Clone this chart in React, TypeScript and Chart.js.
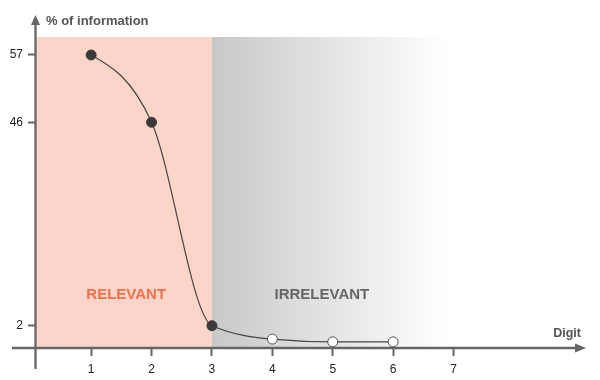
import { useEffect, useRef } from "react";
import { Chart, registerables, LinearScale } from "chart.js";

Chart.register(...registerables);

// ---- data ----
const digits = [1, 2, 3, 4, 5, 6];
const infoPercent = [57, 46, 2, 0.8, 0.55, 0.55];
const relevantCount = 3;
const xTickValues = [1, 2, 3, 4, 5, 6, 7];
const yTickValues = [2, 46, 57];
const yAxisTitle = "% of information";
const xAxisTitle = "Digit";
const relevantLabel = "RELEVANT";
const irrelevantLabel = "IRRELEVANT";
// schematic (non-proportional) y axis calibration: value -> axis height share
const yCalibValues = [0, 2, 46, 57, 60];
const yCalibHeights = [0, 22.3, 225.7, 293, 311];

function warp(v: number): number {
  const a = yCalibValues, b = yCalibHeights;
  for (let i = 1; i < a.length; i++) {
    if (v <= a[i] || i === a.length - 1) {
      const t = (v - a[i - 1]) / (a[i] - a[i - 1]);
      return b[i - 1] + t * (b[i] - b[i - 1]);
    }
  }
  return v;
}
function unwarp(h: number): number {
  const a = yCalibValues, b = yCalibHeights;
  for (let i = 1; i < b.length; i++) {
    if (h <= b[i] || i === b.length - 1) {
      const t = (h - b[i - 1]) / (b[i] - b[i - 1]);
      return a[i - 1] + t * (a[i] - a[i - 1]);
    }
  }
  return h;
}

class WarpScale extends LinearScale {
  getPixelForValue(value: any) {
    if (value === null || value === undefined) return NaN;
    return super.getPixelForValue(warp(value));
  }
  getValueForPixel(pixel: number) {
    return unwarp(super.getValueForPixel(pixel) as number);
  }
}
(WarpScale as any).id = "warp";
(WarpScale as any).defaults = (LinearScale as any).defaults;
Chart.register(WarpScale as any);

const FONT = '"Liberation Sans", Arial, Helvetica, sans-serif';
const AXIS = "#666666";

function sign(v: number) {
  return v < 0 ? -1 : 1;
}

// monotone-X (Steffen) control points, applied to the library's point elements
function applyMonotoneX(line: any) {
  const pts = line.points || [];
  const n = pts.length;
  if (n < 2) return;
  const t: number[] = new Array(n).fill(0);
  for (let i = 1; i < n - 1; i++) {
    const h0 = pts[i].x - pts[i - 1].x;
    const h1 = pts[i + 1].x - pts[i].x;
    const s0 = (pts[i].y - pts[i - 1].y) / h0;
    const s1 = (pts[i + 1].y - pts[i].y) / h1;
    const p = (s0 * h1 + s1 * h0) / (h0 + h1);
    t[i] = (sign(s0) + sign(s1)) * Math.min(Math.abs(s0), Math.abs(s1), 0.5 * Math.abs(p)) || 0;
  }
  if (n > 2) {
    const h = pts[1].x - pts[0].x;
    t[0] = (3 * (pts[1].y - pts[0].y) / h - t[1]) / 2;
    const h2 = pts[n - 1].x - pts[n - 2].x;
    t[n - 1] = (3 * (pts[n - 1].y - pts[n - 2].y) / h2 - t[n - 2]) / 2;
  } else {
    t[0] = t[1] = (pts[1].y - pts[0].y) / (pts[1].x - pts[0].x);
  }
  for (let i = 0; i < n; i++) {
    const pt = pts[i];
    const dPrev = i > 0 ? (pt.x - pts[i - 1].x) / 3 : 0;
    const dNext = i < n - 1 ? (pts[i + 1].x - pt.x) / 3 : 0;
    pt.cp1x = pt.x - dPrev;
    pt.cp1y = pt.y - dPrev * t[i];
    pt.cp2x = pt.x + dNext;
    pt.cp2y = pt.y + dNext * t[i];
  }
  line._pointsUpdated = true;
  line._path = undefined;
}

const backgroundPlugin = {
  id: "regions",
  beforeDatasetsDraw(chart: any) {
    const { ctx, chartArea, scales } = chart;
    const meta = chart.getDatasetMeta(0);
    if (meta && meta.dataset) applyMonotoneX(meta.dataset);

    const x = scales.x;
    const x3 = x.getPixelForValue(3);
    const xFade = x.getPixelForValue(6.9);
    ctx.save();
    ctx.fillStyle = "#FBD5C9";
    ctx.fillRect(chartArea.left, chartArea.top, x3 - chartArea.left, chartArea.bottom - chartArea.top);
    const g = ctx.createLinearGradient(x3, 0, xFade, 0);
    g.addColorStop(0, "#C8C8C8");
    g.addColorStop(1, "#FFFFFF");
    ctx.fillStyle = g;
    ctx.fillRect(x3, chartArea.top, xFade - x3, chartArea.bottom - chartArea.top);

    ctx.font = `bold 15px ${FONT}`;
    ctx.textAlign = "center";
    ctx.textBaseline = "alphabetic";
    ctx.fillStyle = "#F2704A";
    ctx.fillText(relevantLabel, x.getPixelForValue(1.58), 299);
    ctx.fillStyle = "#666666";
    ctx.fillText(irrelevantLabel, x.getPixelForValue(4.82), 299);
    ctx.restore();
  },
  afterDraw(chart: any) {
    const { ctx, chartArea, scales } = chart;
    const y0 = scales.y.getPixelForValue(0);
    const xL = chartArea.left + 0.5;
    ctx.save();
    ctx.strokeStyle = AXIS;
    ctx.fillStyle = AXIS;
    ctx.lineWidth = 2.3;
    // x axis
    ctx.beginPath();
    ctx.moveTo(12, y0);
    ctx.lineTo(577, y0);
    ctx.stroke();
    ctx.beginPath();
    ctx.moveTo(575, y0 - 4.5);
    ctx.lineTo(586, y0);
    ctx.lineTo(575, y0 + 4.5);
    ctx.closePath();
    ctx.fill();
    // y axis
    ctx.beginPath();
    ctx.moveTo(xL, 369);
    ctx.lineTo(xL, 24);
    ctx.stroke();
    ctx.beginPath();
    ctx.moveTo(xL - 4.5, 25);
    ctx.lineTo(xL, 15);
    ctx.lineTo(xL + 4.5, 25);
    ctx.closePath();
    ctx.fill();

    ctx.fillStyle = "#555555";
    ctx.font = `bold 13px ${FONT}`;
    ctx.textAlign = "left";
    ctx.textBaseline = "alphabetic";
    ctx.fillText(yAxisTitle, 46, 25);
    ctx.font = `bold 12.5px ${FONT}`;
    ctx.textAlign = "right";
    ctx.fillText(xAxisTitle, 581, 337);
    ctx.restore();
  },
};

export default function App() {
  const ref = useRef<HTMLCanvasElement>(null);
  useEffect(() => {
    if (!ref.current) return;
    const pts = digits.map((d, i) => ({ x: d, y: infoPercent[i] }));
    const chart = new Chart(ref.current, {
      type: "line",
      data: {
        datasets: [
          {
            data: pts,
            borderColor: "#444444",
            borderWidth: 1.2,
            cubicInterpolationMode: "monotone",
            fill: false,
            pointRadius: 5,
            pointBorderWidth: 1,
            pointBackgroundColor: digits.map((_, i) => (i < relevantCount ? "#3A3A3A" : "#FFFFFF")),
            pointBorderColor: digits.map((_, i) => (i < relevantCount ? "#3A3A3A" : "#555555")),
          } as any,
        ],
      },
      options: {
        animation: false,
        responsive: false,
        devicePixelRatio: 1,
        layout: { padding: { top: 37, right: 16, left: 0, bottom: 0 } },
        plugins: { legend: { display: false }, tooltip: { enabled: false } },
        scales: {
          x: {
            type: "linear",
            min: 0.07,
            max: 9.16,
            afterBuildTicks: (s: any) => {
              s.ticks = xTickValues.map((v) => ({ value: v }));
            },
            afterFit: (s: any) => {
              s.height = 32;
            },
            border: { display: false },
            grid: { drawOnChartArea: false, tickLength: 8, tickWidth: 2, color: AXIS },
            ticks: { font: { size: 12, family: FONT }, color: "#222222", padding: 6, autoSkip: false, maxRotation: 0 },
          },
          y: {
            type: "warp" as any,
            min: 0,
            max: 311,
            afterBuildTicks: (s: any) => {
              s.ticks = yTickValues.map((v) => ({ value: v }));
            },
            afterFit: (s: any) => {
              s.width = 35;
            },
            border: { display: false },
            grid: { drawOnChartArea: false, tickLength: 7, tickWidth: 2, color: AXIS },
            ticks: { font: { size: 12, family: FONT }, color: "#222222", padding: 5, autoSkip: false, callback: (v: any) => String(v) },
          } as any,
        },
      },
      plugins: [backgroundPlugin],
    });
    return () => chart.destroy();
  }, []);
  return (
    <div style={{ position: "fixed", left: 0, top: 0, width: 600, height: 380, background: "#fff" }}>
      <canvas ref={ref} width={600} height={380} />
    </div>
  );
}
